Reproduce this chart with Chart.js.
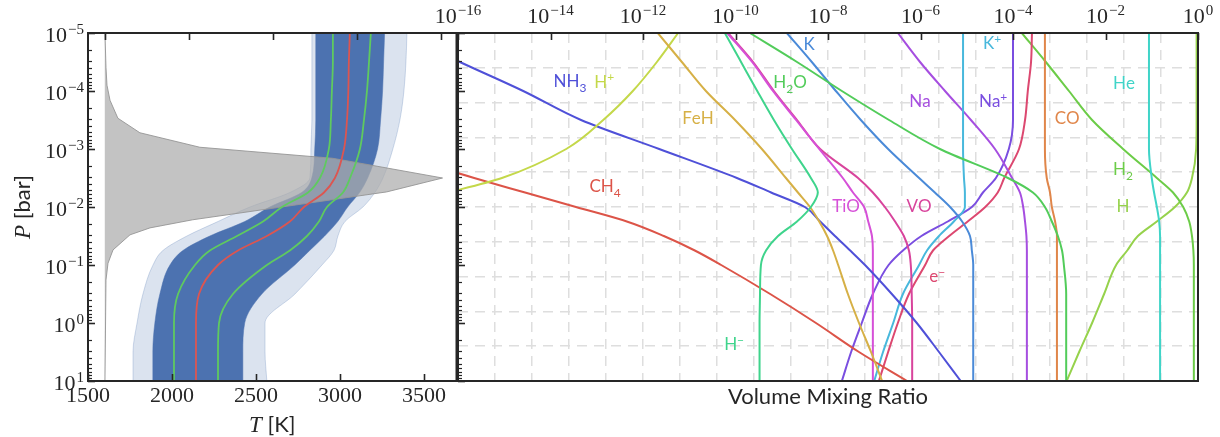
<!DOCTYPE html>
<html lang="en">
<head>
<meta charset="UTF-8">
<title>Retrieved temperature profile and abundances</title>
<script src="https://cdn.jsdelivr.net/npm/chart.js@4.4.0/dist/chart.umd.min.js"></script>
<style>
  body { margin: 0; background: #fff; }
  #wrap { position: relative; width: 1220px; height: 437px; }
  #wrap canvas { position: absolute; left: 0; top: 0; }
</style>
</head>
<body>
<div id="wrap">
  <canvas id="tp" width="1220" height="437"></canvas>
  <canvas id="vmr" width="1220" height="437"></canvas>
</div>
<script>
// ---- data ---------------------------------------------------------------

// pressure grid, log10(P / bar)
const logP = [-5, -4.5, -4, -3.5, -3, -2.5, -2.25, -2, -1.75, -1.5, -1.25, -1, -0.5, 0, 0.5, 1];

// temperature profile [K]: median, 16th/84th percentiles
const tMedian = [3059, 3053, 3050, 3042, 3024, 2970, 2905, 2786, 2702, 2565, 2393, 2274, 2161, 2143, 2143, 2143];
const tLow    = [2958, 2958, 2952, 2946, 2934, 2881, 2810, 2655, 2542, 2387, 2226, 2137, 2036, 2012, 2012, 2012];
const tHigh   = [3184, 3173, 3161, 3143, 3119, 3060, 3018, 2923, 2875, 2804, 2702, 2565, 2363, 2280, 2274, 2274];

// spread of the posterior samples: dense core and outer envelope [K]
const coreLeft   = [2856, 2856, 2856, 2856, 2850, 2832, 2772, 2582, 2433, 2225, 2065, 1988, 1928, 1898, 1886, 1886];
const coreRight  = [3266, 3260, 3254, 3242, 3224, 3165, 3117, 3046, 2987, 2909, 2820, 2731, 2535, 2433, 2422, 2422];
const outerLeft  = [2833, 2833, 2833, 2833, 2827, 2821, 2702, 2464, 2274, 2089, 1946, 1887, 1827, 1792, 1768, 1768];
const outerRight = [3399, 3393, 3381, 3357, 3315, 3256, 3208, 3137, 3030, 2988, 2964, 2893, 2732, 2554, 2554, 2565];

// contribution function outline (drawn from the 1600 K baseline)
const cfLogP = [-5, -4.41, -4.10, -3.84, -3.53, -3.28, -3.03, -2.84, -2.5, -2.26, -1.78, -1.64, -1.52, -1.26, -1.03, -0.74, 1];
const cfT    = [1601, 1607, 1613, 1631, 1678, 1809, 2166, 2957, 3611, 3278, 2124, 1869, 1750, 1649, 1619, 1607, 1601];

// log10 volume mixing ratios on the logP grid
const vmrNH3   = [-17.28, -15.96, -14.59, -13.34, -11.65, -9.97, -9.23, -8.50, -8.17, -7.85, -7.52, -7.20, -6.62, -6.08, -5.60, -5.13];
const vmrCH4   = [null, null, null, null, -17.7, -15.65, -14.55, -13.45, -12.35, -11.55, -10.88, -10.31, -9.25, -8.26, -7.33, -6.29];
const vmrHp    = [-11.24, -11.70, -12.22, -12.86, -13.66, -15.05, -16.22, -17.5, null, null, null, null, null, null, null, null];
const vmrFeH   = [-11.68, -11.16, -10.64, -10.01, -9.43, -8.91, -8.65, -8.39, -8.19, -8.02, -7.89, -7.78, -7.57, -7.33, -7.07, -6.83];
const vmrH2O   = [-9.69, -8.67, -7.70, -6.68, -5.58, -4.11, -3.57, -3.31, -3.16, -3.03, -2.94, -2.90, -2.85, -2.85, -2.85, -2.85];
const vmrHm    = [-10.23, -9.88, -9.53, -9.17, -8.78, -8.37, -8.22, -8.37, -8.67, -9.08, -9.34, -9.45, -9.47, -9.48, -9.48, -9.48];
const vmrTiO   = [-10.18, -9.64, -9.19, -8.69, -8.19, -7.68, -7.46, -7.22, -7.13, -7.05, -7.03, -7.03, -7.03, -7.03, -7.03, -7.03];
const vmrVO    = [-10.16, -9.62, -9.17, -8.67, -8.17, -7.35, -7.03, -6.77, -6.55, -6.36, -6.25, -6.21, -6.19, -6.18, -6.18, -6.18];
const vmrK     = [-8.89, -8.35, -7.83, -7.29, -6.70, -6.03, -5.69, -5.36, -5.10, -4.93, -4.89, -4.86, -4.86, -4.86, -4.86, -4.86];
const vmrKp    = [-5.08, -5.08, -5.08, -5.08, -5.08, -5.06, -5.04, -5.04, -5.28, -5.60, -5.86, -6.03, -6.38, -6.59, -6.81, -7.00];
const vmrNa    = [-6.49, -6.01, -5.47, -4.91, -4.39, -4.02, -3.85, -3.78, -3.74, -3.71, -3.70, -3.70, -3.70, -3.70, -3.70, -3.70];
const vmrNap   = [-4.00, -4.00, -4.00, -4.00, -4.09, -4.37, -4.65, -4.89, -5.41, -5.98, -6.38, -6.69, -7.03, -7.27, -7.50, -7.70];
const vmrEm    = [-3.59, -3.61, -3.68, -3.74, -3.87, -4.19, -4.33, -4.60, -4.98, -5.38, -5.73, -5.90, -6.25, -6.49, -6.70, -6.90];
const vmrCO    = [-3.31, -3.31, -3.31, -3.31, -3.31, -3.27, -3.20, -3.16, -3.09, -3.05, -3.05, -3.05, -3.05, -3.05, -3.05, -3.05];
const vmrHe    = [-1.06, -1.06, -1.06, -1.06, -1.06, -1.00, -0.95, -0.89, -0.84, -0.82, -0.82, -0.82, -0.82, -0.82, -0.82, -0.82];
const vmrH2    = [-3.81, -3.29, -2.79, -2.29, -1.62, -0.89, -0.54, -0.32, -0.19, -0.13, -0.10, -0.09, -0.09, -0.09, -0.09, -0.09];
const vmrH     = [-0.03, -0.03, -0.03, -0.03, -0.04, -0.13, -0.24, -0.50, -0.89, -1.30, -1.53, -1.77, -2.03, -2.29, -2.57, -2.84];

// tick values
const tempTicks = [1500, 2000, 2500, 3000, 3500];
const tempTicksTop = [1600, 2100, 2600, 3100, 3600];
const pressureExps = [-5, -4, -3, -2, -1, 0, 1];
const vmrExps = [-16, -14, -12, -10, -8, -6, -4, -2, 0];

// ---- styling --------------------------------------------------------------

const INK = '#262626';
const SERIF = '"Liberation Serif", "DejaVu Serif", serif';
const SANS = 'Lato, "Open Sans", sans-serif';
const BLUE = '76,114,176';

// species: [key, values, colour, label text, label log10 VMR, label log10 P]
const species = [
  ['H2O', vmrH2O, '#52cc5a', 'H_2O', -8.82, -4.16],
  ['Hm',  vmrHm,  '#3fd48c', 'H^−',  -10.03, 0.36],
  ['FeH', vmrFeH, '#d6b046', 'FeH',  -10.81, -3.53],
  ['Hp',  vmrHp,  '#c4d84a', 'H^+',  -12.84, -4.16],
  ['NH3', vmrNH3, '#4f50d8', 'NH_3', -13.58, -4.17],
  ['CH4', vmrCH4, '#dc5448', 'CH_4', -12.82, -2.36],
  ['TiO', vmrTiO, '#d650d8', 'TiO',  -7.61, -2.02],
  ['VO',  vmrVO,  '#d8449c', 'VO',   -6.03, -2.02],
  ['K',   vmrK,   '#4a8ad8', 'K',    -8.41, -4.81],
  ['Kp',  vmrKp,  '#48b8dc', 'K^+',  -4.45, -4.83],
  ['Na',  vmrNa,  '#a64ee0', 'Na',   -6.01, -3.83],
  ['Nap', vmrNap, '#7a4ee0', 'Na^+', -4.43, -3.83],
  ['Em',  vmrEm,  '#dc4870', 'e^−',  -5.64, -0.81],
  ['CO',  vmrCO,  '#e0864a', 'CO',   -2.83, -3.53],
  ['He',  vmrHe,  '#40d4c8', 'He',   -1.60, -4.14],
  ['H2',  vmrH2,  '#6ccc48', 'H_2',  -1.62, -2.66],
  ['H',   vmrH,   '#96d24c', 'H',    -1.62, -2.02]
];

// ---- helpers --------------------------------------------------------------

function tempProfile(values) {
  return values.map((t, i) => ({ x: t, y: 10 ** logP[i] }));
}

function vmrProfile(values) {
  const pts = [];
  values.forEach((v, i) => { if (v !== null) pts.push({ x: 10 ** v, y: 10 ** logP[i] }); });
  return pts;
}

function frame(ctx, a) {
  ctx.save();
  ctx.strokeStyle = INK;
  ctx.lineWidth = 2;
  ctx.strokeRect(a.left, a.top, a.right - a.left, a.bottom - a.top);
  ctx.restore();
}

// log ticks pointing inwards from a vertical spine
function logTicksY(ctx, scale, x, expMin, expMax) {
  for (let e = expMin; e <= expMax; e++) {
    for (let k = 1; k <= 9; k++) {
      if (e === expMax && k > 1) break;
      const y = Math.round(scale.getPixelForValue(k * 10 ** e)) + 0.5;
      const len = k === 1 ? 7 : 4;
      ctx.lineWidth = k === 1 ? 1.6 : 1.2;
      ctx.beginPath(); ctx.moveTo(x, y); ctx.lineTo(x + len, y); ctx.stroke();
    }
  }
}

function vTick(ctx, x, y, len) {
  ctx.lineWidth = 1.6;
  ctx.beginPath(); ctx.moveTo(x, y); ctx.lineTo(x, y + len); ctx.stroke();
}

// "10" with a raised exponent
function drawPow(ctx, exp, x, baseline, align) {
  const base = '10';
  const sup = exp < 0 ? '\u2212' + (-exp) : String(exp);
  ctx.font = '22px ' + SERIF;
  const wb = ctx.measureText(base).width;
  ctx.font = '15px ' + SERIF;
  const ws = ctx.measureText(sup).width;
  const w = wb + 1 + ws;
  const x0 = align === 'right' ? x - w : x - w / 2;
  ctx.textAlign = 'left';
  ctx.textBaseline = 'alphabetic';
  ctx.font = '22px ' + SERIF;
  ctx.fillText(base, x0, baseline);
  ctx.font = '15px ' + SERIF;
  ctx.fillText(sup, x0 + wb + 1, baseline - 8);
}

// text with single-character sub (_x) and superscripts (^x), centred on (cx, cy)
function drawRich(ctx, text, cx, cy, size, color) {
  const parts = [];
  for (let i = 0; i < text.length; i++) {
    const c = text[i];
    if ((c === '_' || c === '^') && i + 1 < text.length) { parts.push({ t: text[i + 1], mode: c }); i++; }
    else parts.push({ t: c, mode: '' });
  }
  const small = Math.round(size * 0.72);
  let w = 0;
  parts.forEach(p => {
    ctx.font = (p.mode ? small : size) + 'px ' + SANS;
    p.w = ctx.measureText(p.t).width;
    w += p.w;
  });
  let x = cx - w / 2;
  const base = cy + size * 0.36;
  ctx.fillStyle = color;
  ctx.textAlign = 'left';
  ctx.textBaseline = 'alphabetic';
  parts.forEach(p => {
    ctx.font = (p.mode ? small : size) + 'px ' + SANS;
    const dy = p.mode === '_' ? size * 0.28 : p.mode === '^' ? -size * 0.38 : 0;
    ctx.fillText(p.t, x, base + dy);
    x += p.w;
  });
}

// ---- left panel: temperature-pressure profile ---------------------------

const tpDecor = {
  id: 'tpDecor',
  afterDraw(chart) {
    const { ctx, chartArea: a, scales: { x, y } } = chart;
    ctx.save();
    ctx.strokeStyle = INK;
    logTicksY(ctx, y, a.left, -5, 1);
    tempTicksTop.forEach(t => vTick(ctx, Math.round(x.getPixelForValue(t)) + 0.5, a.top, 7));
    tempTicks.forEach(t => vTick(ctx, Math.round(x.getPixelForValue(t)) + 0.5, a.bottom, -7));
    frame(ctx, a);

    ctx.fillStyle = INK;
    pressureExps.forEach(e => drawPow(ctx, e, a.left - 4, y.getPixelForValue(10 ** e) + 9, 'right'));
    ctx.font = '22px ' + SERIF;
    ctx.textAlign = 'center';
    ctx.textBaseline = 'alphabetic';
    tempTicks.forEach(t => ctx.fillText(String(t), x.getPixelForValue(t), 402));

    // axis titles
    const cx = (a.left + a.right) / 2;
    ctx.font = 'italic 23px ' + SERIF;
    const wT = ctx.measureText('T').width;
    ctx.font = '22px ' + SANS;
    const wK = ctx.measureText(' [K]').width;
    ctx.textAlign = 'left';
    ctx.font = 'italic 23px ' + SERIF;
    ctx.fillText('T', cx - (wT + wK) / 2, 432);
    ctx.font = '22px ' + SANS;
    ctx.fillText(' [K]', cx - (wT + wK) / 2 + wT, 432);

    ctx.translate(30, (a.top + a.bottom) / 2);
    ctx.rotate(-Math.PI / 2);
    ctx.font = 'italic 23px ' + SERIF;
    const wP = ctx.measureText('P').width;
    ctx.font = '22px ' + SANS;
    const wB = ctx.measureText(' [bar]').width;
    ctx.font = 'italic 23px ' + SERIF;
    ctx.fillText('P', -(wP + wB) / 2, 0);
    ctx.font = '22px ' + SANS;
    ctx.fillText(' [bar]', -(wP + wB) / 2 + wP, 0);
    ctx.restore();
  }
};

const line = (data, color, width, extra) => Object.assign({
  data, borderColor: color, borderWidth: width, pointRadius: 0, fill: false,
  cubicInterpolationMode: 'monotone'
}, extra || {});

new Chart(document.getElementById('tp'), {
  type: 'line',
  data: {
    datasets: [
      line(tempProfile(tHigh), '#5fca5f', 1.8, { order: 0 }),
      line(tempProfile(tLow), '#5fca5f', 1.8, { order: 0 }),
      line(tempProfile(tMedian), '#dd5550', 1.8, { order: 0 }),
      line(cfT.map((t, i) => ({ x: t, y: 10 ** cfLogP[i] })), 'rgba(150,150,150,0.9)', 1,
        { fill: { value: 1600 }, backgroundColor: 'rgba(172,172,172,0.72)', cubicInterpolationMode: 'default', tension: 0, order: 1 }),
      line(tempProfile(coreLeft), `rgba(${BLUE},0.5)`, 1, { fill: '+1', backgroundColor: `rgb(${BLUE})`, order: 2 }),
      line(tempProfile(coreRight), `rgba(${BLUE},0.5)`, 1, { order: 2 }),
      line(tempProfile(outerLeft), `rgba(${BLUE},0.25)`, 1, { fill: '+1', backgroundColor: `rgba(${BLUE},0.2)`, order: 3 }),
      line(tempProfile(outerRight), `rgba(${BLUE},0.25)`, 1, { order: 3 })
    ]
  },
  options: {
    indexAxis: 'y',
    responsive: false,
    devicePixelRatio: 1,
    animation: false,
    events: [],
    layout: { padding: { left: 88, right: 763.5, top: 33, bottom: 56 } },
    plugins: { legend: { display: false }, tooltip: { enabled: false } },
    scales: {
      x: { type: 'linear', min: 1500, max: 3694, ticks: { display: false }, grid: { display: false, drawTicks: false }, border: { display: false } },
      y: { type: 'logarithmic', min: 1e-5, max: 10, reverse: true, ticks: { display: false }, grid: { display: false, drawTicks: false }, border: { display: false } }
    }
  },
  plugins: [tpDecor]
});

// ---- right panel: volume mixing ratios ----------------------------------

const vmrDecor = {
  id: 'vmrDecor',
  afterDraw(chart) {
    const { ctx, chartArea: a, scales: { x, y } } = chart;
    ctx.save();
    ctx.strokeStyle = INK;
    logTicksY(ctx, y, a.left, -5, 1);
    vmrExps.forEach(e => vTick(ctx, Math.round(x.getPixelForValue(10 ** e)) + 0.5, a.top, 7));
    frame(ctx, a);

    ctx.fillStyle = INK;
    vmrExps.forEach(e => drawPow(ctx, e, x.getPixelForValue(10 ** e), 23, 'center'));

    ctx.font = '22px ' + SANS;
    ctx.textAlign = 'center';
    ctx.textBaseline = 'alphabetic';
    ctx.fillText('Volume Mixing Ratio', (a.left + a.right) / 2, 404);

    species.forEach(s => {
      drawRich(ctx, s[3], x.getPixelForValue(10 ** s[4]), y.getPixelForValue(10 ** s[5]), 17, s[2]);
    });
    ctx.restore();
  }
};

const gridAxis = (pos, max) => ({
  type: 'linear', position: pos, min: 0, max, display: true,
  ticks: { display: false, stepSize: 1 },
  grid: { color: '#dedede', lineWidth: 1.5, drawTicks: false },
  border: { display: false, dash: [10, 7] }
});

new Chart(document.getElementById('vmr'), {
  type: 'line',
  data: {
    datasets: species.map(s => line(vmrProfile(s[1]), s[2], 2))
  },
  options: {
    indexAxis: 'y',
    responsive: false,
    devicePixelRatio: 1,
    animation: false,
    events: [],
    layout: { padding: { left: 458, right: 22, top: 33, bottom: 56 } },
    plugins: { legend: { display: false }, tooltip: { enabled: false } },
    scales: {
      x: { type: 'logarithmic', min: 1e-16, max: 1, ticks: { display: false }, grid: { display: false, drawTicks: false }, border: { display: false } },
      y: { type: 'logarithmic', min: 1e-5, max: 10, reverse: true, ticks: { display: false }, grid: { display: false, drawTicks: false }, border: { display: false } },
      gx: gridAxis('top', 20),
      gy: gridAxis('right', 10)
    }
  },
  plugins: [vmrDecor]
});
</script>
</body>
</html>
